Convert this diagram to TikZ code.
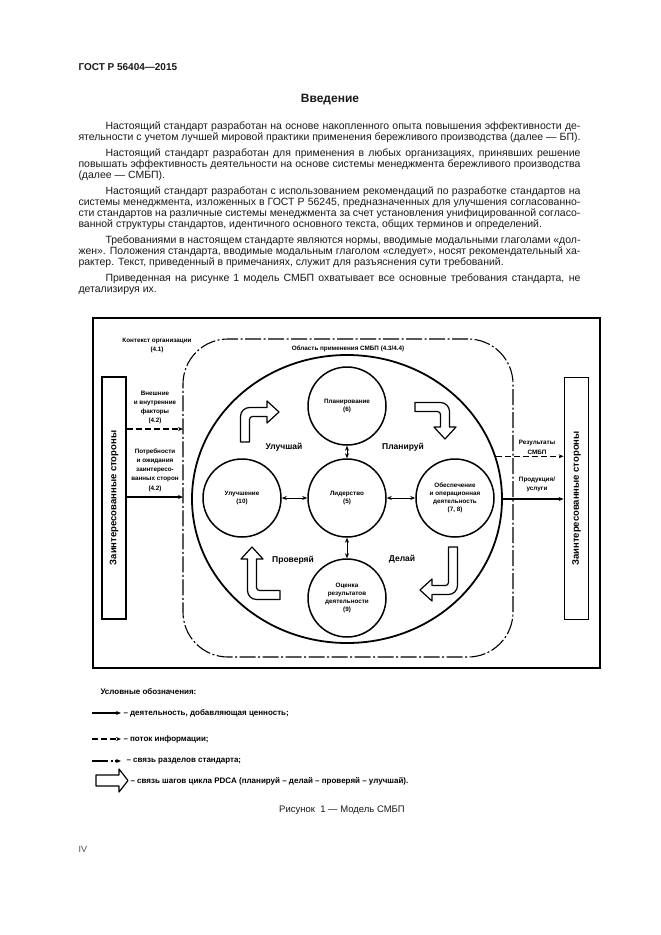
\documentclass[tikz,border=0pt]{standalone}
\usepackage{fontspec}
\setmainfont{Liberation Sans}
\usetikzlibrary{arrows.meta,shapes.geometric}
\definecolor{gostink}{RGB}{25,25,25}

\tikzset{
  bodytext/.style={inner sep=0pt,align=left,font=\fontsize{10.5}{11.2}\selectfont,text=gostink},
  tinylbl/.style={inner sep=0pt,align=center,font=\fontsize{6.3}{9.3}\selectfont\bfseries},
  stepword/.style={inner sep=0pt,font=\fontsize{8.5}{10}\selectfont\bfseries},
  unit/.style={circle,draw,line width=1.5pt,minimum size=78pt,inner sep=0pt,align=center,font=\fontsize{6.3}{8}\selectfont\bfseries},
  stakebox/.style={draw,line width=1.8pt,minimum width=24pt,minimum height=242pt,inner sep=0pt},
  stakeword/.style={rotate=90,inner sep=0pt,font=\fontsize{9.5}{10}\selectfont\bfseries},
  ctxline/.style={line width=1.1pt,dash pattern=on 16pt off 2.5pt on 2pt off 2.5pt},
  infoline/.style={line width=1.1pt,dash pattern=on 6pt off 3pt},
  valueline/.style={line width=1.6pt},
  hollow/.style={draw,line width=1.2pt,fill=white,line join=round},
  legendtext/.style={anchor=west,inner sep=0pt,font=\fontsize{8}{10}\selectfont\bfseries},
  pics/pdcaturn/.style 2 args={code={
    \draw[hollow] (-4.5,0) -- (-4.5,#1-4.5) arc[start angle=180,end angle=90,radius=9]
      -- (#2-12,#1+4.5) -- (#2-12,#1+11) -- (#2,#1) -- (#2-12,#1-11) -- (#2-12,#1-4.5)
      -- (7.5,#1-4.5) arc[start angle=90,end angle=180,radius=3] -- (4.5,0) -- cycle;
  }},
}

\begin{document}
\begin{tikzpicture}[x=1pt,y=-1pt,line width=1pt,>={Stealth[length=5pt,width=4pt]}]
  \fill[white] (0,0) rectangle (661,935);
  \useasboundingbox (0,0) rectangle (661,935);

  % page head and introduction
  \node[anchor=west,inner sep=0pt,font=\fontsize{10}{12}\selectfont\bfseries,text=gostink] (head) at (78,67) {ГОСТ Р 56404—2015};
  \node[font=\fontsize{12}{14}\selectfont\bfseries,text=gostink] (intro) at (330,100) {Введение};
  \node[bodytext,anchor=north west] (body) at (78,121.5) {%
    \makebox[502pt][s]{\hspace*{27pt}Настоящий стандарт разработан на основе накопленного опыта повышения эффективности де-}\\
    \makebox[502pt][s]{ятельности с учетом лучшей мировой практики применения бережливого производства (далее — БП).}\\[4.3pt]
    \makebox[502pt][s]{\hspace*{27pt}Настоящий стандарт разработан для применения в любых организациях, принявших решение}\\
    \makebox[502pt][s]{повышать эффективность деятельности на основе системы менеджмента бережливого производства}\\
    (далее — СМБП).\\[4.3pt]
    \makebox[502pt][s]{\hspace*{27pt}Настоящий стандарт разработан с использованием рекомендаций по разработке стандартов на}\\
    \makebox[502pt][s]{системы менеджмента, изложенных в ГОСТ Р 56245, предназначенных для улучшения согласованно-}\\
    \makebox[502pt][s]{сти стандартов на различные системы менеджмента за счет установления унифицированной согласо-}\\
    ванной структуры стандартов, идентичного основного текста, общих терминов и определений.\\[4.3pt]
    \makebox[502pt][s]{\hspace*{27pt}Требованиями в настоящем стандарте являются нормы, вводимые модальными глаголами «дол-}\\
    \makebox[502pt][s]{жен». Положения стандарта, вводимые модальным глаголом «следует», носят рекомендательный ха-}\\
    рактер. Текст, приведенный в примечаниях, служит для разъяснения сути требований.\\[4.3pt]
    \makebox[502pt][s]{\hspace*{27pt}Приведенная на рисунке 1 модель СМБП охватывает все основные требования стандарта, не}\\
    детализируя их.};

  % figure frame and boundaries
  \draw[line width=1.8pt] (93,318) rectangle (600,668);
  \node[draw,ctxline,rounded corners=45pt,minimum width=330pt,minimum height=318pt,inner sep=0pt] (context) at (348,498) {};
  \node[draw,ellipse,line width=1.8pt,minimum width=310pt,minimum height=288pt,inner sep=0pt] (area) at (347,499) {};
  \node[tinylbl] (ctxlbl) at (157,345.5) {Контекст организации\\(4.1)};
  \node[tinylbl] (arealbl) at (348,349) {Область применения СМБП (4.3/4.4)};

  % interested parties
  \node[stakebox] (stakeL) at (114,498) {};
  \node[stakeword] (stakeLword) at (stakeL) {Заинтересованные стороны};
  \node[stakebox] (stakeR) at (576.5,498.5) {};
  \node[stakeword] (stakeRword) at (stakeR) {Заинтересованные стороны};
  \node[tinylbl] (factors) at (155,407.5) {Внешние\\и внутренние\\факторы\\(4.2)};
  \node[tinylbl] (needs) at (155,470) {Потребности\\и ожидания\\заинтересо-\\ванных сторон\\(4.2)};
  \node[tinylbl] (results) at (537,447.5) {Результаты\\СМБП};
  \node[tinylbl] (products) at (537,484.5) {Продукция/\\услуги};
  \coordinate (factorsin) at (183,429);
  \coordinate (needsin) at (183,497);
  \draw[infoline,->] (stakeL.east |- factorsin) -- (factorsin);
  \draw[valueline,->] (stakeL.east |- needsin) -- (needsin);
  \draw[infoline,->] (area.16) -- (stakeR.west |- area.16);
  \draw[valueline,->] (area.east) -- (stakeR.west |- area.east);

  % sections of the standard
  \node[unit] (plan) at (347,406) {Планирование\\(6)};
  \node[unit] (lead) at (347,498) {Лидерство\\(5)};
  \node[unit] (impr) at (242,498) {Улучшение\\(10)};
  \node[unit] (supp) at (455,498) {Обеспечение\\и операционная\\деятельность\\(7, 8)};
  \node[unit] (eval) at (347,598) {Оценка\\результатов\\деятельности\\(9)};
  \foreach \n in {plan,impr,supp,eval}
    \draw[<->] (lead) -- (\n);

  % PDCA cycle
  \node[stepword] (improve) at (284,447) {Улучшай};
  \node[stepword] (planit) at (403,447) {Планируй};
  \node[stepword] (check) at (293,560) {Проверяй};
  \node[stepword] (doit) at (402,559) {Делай};
  \pic[yscale=-1] at (245,442) {pdcaturn={30}{34}};
  \pic[yscale=-1,rotate=90] at (415,407) {pdcaturn={30}{32}};
  \pic[yscale=-1,rotate=180] at (453,547) {pdcaturn={43}{33}};
  \pic[yscale=-1,rotate=270] at (280,595) {pdcaturn={28}{48}};

  % legend
  \node[legendtext] (legendhead) at (100,692) {Условные обозначения:};
  \coordinate (keyA0) at (92,713);
  \coordinate (keyA1) at (121,713);
  \draw[valueline,->] (keyA0) -- (keyA1);
  \node[legendtext] (keyAtext) at (123,713) {– деятельность, добавляющая ценность;};
  \coordinate (keyB0) at (92,739);
  \coordinate (keyB1) at (121,739);
  \draw[infoline,->] (keyB0) -- (keyB1);
  \node[legendtext] (keyBtext) at (123,739) {– поток информации;};
  \coordinate (keyC0) at (92,761);
  \coordinate (keyC1) at (121,761);
  \draw[ctxline,->] (keyC0) -- (keyC1);
  \node[legendtext] (keyCtext) at (126,761) {– связь разделов стандарта;};
  \draw[hollow] (96,775) -- (119,775) -- (119,769) -- (128,780.5) -- (119,792) -- (119,786) -- (96,786) -- cycle;
  \node[legendtext] (keyDtext) at (130,781) {– связь шагов цикла PDCA (планируй – делай – проверяй – улучшай).};

  \node[font=\fontsize{9.5}{11}\selectfont,text=gostink] (caption) at (342,810) {Рисунок\ \ 1 — Модель СМБП};
  \node[anchor=west,inner sep=0pt,font=\fontsize{9}{11}\selectfont,text=black!70] (folio) at (78,849) {IV};
\end{tikzpicture}
\end{document}
